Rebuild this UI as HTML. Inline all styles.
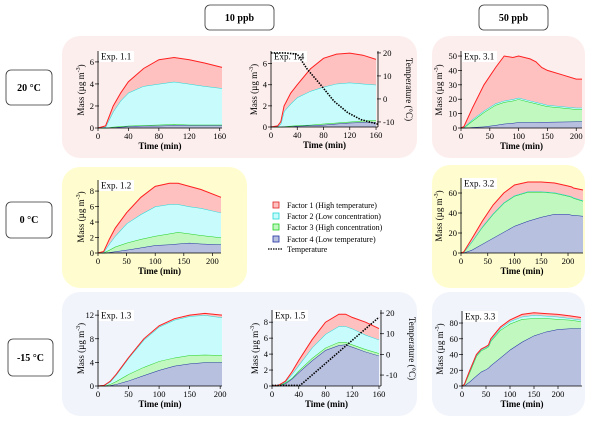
<!DOCTYPE html>
<html><head><meta charset="utf-8">
<style>
html,body{margin:0;padding:0;background:#fff;}
svg, svg text{font-family:"Liberation Serif","Times New Roman",serif;}
svg{display:block;}
</style></head>
<body>
<svg id="fig" width="600" height="423" viewBox="0 0 600 423" xmlns="http://www.w3.org/2000/svg" font-family="Liberation Serif, serif">
<g>
<rect x="62" y="36" width="355" height="122" rx="18" fill="#fdeeee"/>
<rect x="432" y="36" width="153" height="122" rx="18" fill="#fdeeee"/>
<rect x="62" y="167" width="185" height="121" rx="18" fill="#fffdcf"/>
<rect x="432" y="165" width="153" height="123" rx="18" fill="#fffdcf"/>
<rect x="62" y="292" width="355" height="124" rx="18" fill="#f1f4fb"/>
<rect x="432" y="292" width="153" height="124" rx="18" fill="#f1f4fb"/>
</g>
<g font-weight="bold" font-size="10" text-anchor="middle">
<rect x="205" y="5" width="69" height="25" rx="5" fill="#fff" stroke="#333" stroke-width="0.8"/>
<text x="239.5" y="21">10 ppb</text>
<rect x="479" y="5" width="69" height="25" rx="5" fill="#fff" stroke="#333" stroke-width="0.8"/>
<text x="513.5" y="21">50 ppb</text>
<rect x="6" y="70" width="46" height="35" rx="5" fill="#fff" stroke="#333" stroke-width="0.8"/>
<text x="29" y="91">20 °C</text>
<rect x="6" y="202" width="46" height="36" rx="5" fill="#fff" stroke="#333" stroke-width="0.8"/>
<text x="29" y="223">0 °C</text>
<rect x="8" y="339" width="45" height="37" rx="5" fill="#fff" stroke="#333" stroke-width="0.8"/>
<text x="30.5" y="361">-15 °C</text>
</g>
<g font-size="8">
<rect x="273" y="202" width="6" height="6" fill="#ffc0c0" stroke="#e02020" stroke-width="0.8"/>
<text x="287" y="208">Factor 1 (High temperature)</text>
<rect x="273" y="213" width="6" height="6" fill="#c8fcfc" stroke="#20d8d8" stroke-width="0.8"/>
<text x="287" y="219">Factor 2 (Low concentration)</text>
<rect x="273" y="224" width="6" height="6" fill="#c0f8c0" stroke="#20d020" stroke-width="0.8"/>
<text x="287" y="230">Factor 3 (High concentration)</text>
<rect x="273" y="236" width="6" height="6" fill="#b8c0e0" stroke="#2030a0" stroke-width="0.8"/>
<text x="287" y="242">Factor 4 (Low temperature)</text>
<line x1="268" y1="249" x2="282" y2="249" stroke="#000" stroke-width="1.2" stroke-dasharray="1.5,1"/>
<text x="287" y="252">Temperature</text>
</g>
<g id="charts" font-family="Liberation Serif, serif"></g>
</svg>
<script>
// ---- data (factor contributions, µg m-3) ----
const e11_t=[0,10,20,30,40,60,80,100,120,140,163];
const e11_f4=[0,0,.05,.1,.15,.2,.2,.25,.25,.25,.25];
const e11_f3=[0,0,.05,.05,.05,.05,.1,.1,.05,.05,.05];
const e11_f2=[0,.1,1.4,2.35,3.0,3.55,3.7,3.85,3.7,3.5,3.3];
const e11_f1=[0,.1,.5,.7,1.0,1.6,2.2,2.2,2.2,2.1,1.9];

const e14_t=[0,10,15,20,30,40,60,80,100,120,140,160];
const e14_f4=[0,0,0,.03,.05,.1,.15,.2,.3,.4,.45,.45];
const e14_f3=[0,0,0,.02,.05,.05,.05,.1,.1,.1,.15,.2];
const e14_f2=[0,.05,.3,1.45,2.1,2.65,3.2,3.5,3.7,3.7,3.5,3.35];
const e14_f1=[0,.05,.2,.5,1.0,1.2,2.1,2.7,2.8,2.8,2.7,2.4];
const e14_tempT=[0,20,40,55,76,96,117,137,163];
const e14_temp=[20,20,19.5,13,6,-1,-6,-9,-11];

const e12_t=[0,10,20,30,50,75,100,125,140,160,180,215];
const e12_f4=[0,0,.1,.2,.4,.7,1.0,1.1,1.2,1.3,1.2,1.1];
const e12_f3=[0,.05,.3,.6,.9,1.1,1.2,1.4,1.5,1.2,1.1,.9];
const e12_f2=[0,.05,.8,1.4,2.5,3.2,3.8,3.8,3.6,3.5,3.5,3.2];
const e12_f1=[0,.1,.6,1.0,1.4,2.2,2.6,2.7,2.7,2.6,2.4,2.0];

const e13_t=[0,10,20,30,50,75,100,125,150,175,203];
const e13_f4=[0,0,.1,.3,.9,1.8,2.7,3.4,3.8,4.0,4.0];
const e13_f3=[0,0,.2,.5,1.1,1.4,1.5,1.4,1.4,1.3,1.2];
const e13_f2=[0,.1,.4,1.1,2.7,4.6,5.8,6.4,6.6,6.7,6.4];
const e13_f1=[0,0,.1,.1,.1,.2,.2,.2,.2,.3,.4];

const e15_t=[0,10,20,30,40,60,80,100,110,120,140,160];
const e15_f4=[0,.05,.3,.9,1.7,3.2,4.5,5.1,5.2,4.9,4.3,3.8];
const e15_f3=[0,0,.1,.1,.2,.3,.3,.4,.3,.3,.3,.3];
const e15_f2=[0,.05,.1,.5,.7,1.3,1.7,2.0,2.0,2.0,1.8,1.7];
const e15_f1=[0,0,.1,.3,.6,1.0,1.5,1.5,1.5,1.4,1.6,1.4];
const e15_tempT=[0,42,160];
const e15_temp=[-15,-15,18];

const e31_t=[0,5,20,40,60,75,90,100,120,130,140,150,175,200,210];
const e31_f4=[0,0,.5,1,2,3,3.5,4,4,4,4.2,4.2,4.3,4.5,4.5];
const e31_f3=[0,.3,4.5,10,14,15,15.5,16,14,13,11.8,10.8,9.7,8.5,8.5];
const e31_f2=[0,.2,1,1,1,1,1,1,1,1,1,1,1,1,1];
const e31_f1=[0,.5,8,18,25,31,29,29,29,28,25,24,22,20,20];

const e32_t=[0,5,20,40,60,80,100,125,150,175,200,207,210,228];
const e32_f4=[0,.2,3,9,15,21,27,32,36,39,39,38,38,37];
const e32_f3=[0,.6,8,17,24,29,30,29,25,21,18,18,17,15];
const e32_f2=[0,0,.3,.5,.5,.5,.5,.5,.5,.5,.5,.5,.5,.5];
const e32_f1=[0,.2,2.7,5.5,8.5,9.5,10.5,9.5,9.5,9.5,9.5,9.5,9.5,10.5];

const e33_t=[0,5,15,30,40,50,55,60,80,100,125,150,175,200,225,248];
const e33_f4=[0,.5,5,13,18,21,23,26,36,46,56,64,69,72,73,73];
const e33_f3=[0,1.5,11,25,27,27,27,31,35,33,29,22,17,13,11,9];
const e33_f2=[0,0,1,1,1,1,1,1,2,3,3,4,3,3,2,2];
const e33_f1=[0,0,1,1,1,1,1,2,2,2,3,3,3,3,3,3];

const ticks_x160=[0,40,80,120,160];
const ticks_x200=[0,50,100,150,200];
const ticks_temp=[-10,0,10,20];

// ---- layout ----
const charts=[
 {id:'exp-1-1',label:'Exp. 1.1',box:[98,52,222,128],xmax:163,ymax:6.9,xt:ticks_x160,yt:[0,2,4,6],t:e11_t,f:[e11_f4,e11_f3,e11_f2,e11_f1]},
 {id:'exp-1-4',label:'Exp. 1.4',box:[271,52,378,127],xmax:163,ymax:7.1,xt:ticks_x160,yt:[0,2,4,6],t:e14_t,f:[e14_f4,e14_f3,e14_f2,e14_f1],tt:e14_tempT,tv:e14_temp,tr:[-12.2,20.4]},
 {id:'exp-1-2',label:'Exp. 1.2',box:[98,181,221,253],xmax:215,ymax:9.3,xt:ticks_x200,yt:[0,2,4,6,8],t:e12_t,f:[e12_f4,e12_f3,e12_f2,e12_f1]},
 {id:'exp-1-3',label:'Exp. 1.3',box:[98,311,222,386],xmax:203,ymax:12.7,xt:ticks_x200,yt:[0,4,8,12],t:e13_t,f:[e13_f4,e13_f3,e13_f2,e13_f1]},
 {id:'exp-1-5',label:'Exp. 1.5',box:[272,311,381,386],xmax:163,ymax:9.4,xt:ticks_x160,yt:[0,2,4,6,8],t:e15_t,f:[e15_f4,e15_f3,e15_f2,e15_f1],tt:e15_tempT,tv:e15_temp,tr:[-15.3,21]},
 {id:'exp-3-1',label:'Exp. 3.1',box:[461,52,582,128],xmax:210,ymax:52.8,xt:ticks_x200,yt:[0,10,20,30,40,50],t:e31_t,f:[e31_f4,e31_f3,e31_f2,e31_f1]},
 {id:'exp-3-2',label:'Exp. 3.2',box:[461,179,583,253],xmax:228,ymax:74,xt:ticks_x200,yt:[0,20,40,60],t:e32_t,f:[e32_f4,e32_f3,e32_f2,e32_f1]},
 {id:'exp-3-3',label:'Exp. 3.3',box:[462,312,582,386],xmax:250,ymax:94,xt:ticks_x200,yt:[0,20,40,60,80],t:e33_t,f:[e33_f4,e33_f3,e33_f2,e33_f1]}
];
const fills=['#b8c0e0','#c0f8c0','#c8fcfc','#ffc0c0'];
const lines=['#2030a0','#20d020','#20d8d8','#ff2020'];
const fnames=['factor-4','factor-3','factor-2','factor-1'];
const NS='http://www.w3.org/2000/svg';
const root=document.getElementById('charts');
function mk(tag,attrs,parent){const e=document.createElementNS(NS,tag);for(const k in attrs)e.setAttribute(k,attrs[k]);parent.appendChild(e);return e;}

charts.forEach(c=>{
 const [L,T,R,B]=c.box;
 const g=mk('g',{},root);
 
 
 const X=v=>L+(v/c.xmax)*(R-L);
 const Y=v=>B-(v/c.ymax)*(B-T);
 let base=c.t.map(()=>0);
 c.f.forEach((arr,i)=>{
  const top=base.map((b,j)=>b+arr[j]);
  let d='M'+c.t.map((t,j)=>X(t).toFixed(1)+','+Y(top[j]).toFixed(1)).join('L');
  for(let j=c.t.length-1;j>=0;j--)d+='L'+X(c.t[j]).toFixed(1)+','+Y(base[j]).toFixed(1);
  const a=mk('path',{d:d+'Z',fill:fills[i]},g);
  
  
  const ln=mk('polyline',{points:c.t.map((t,j)=>X(t).toFixed(1)+','+Y(top[j]).toFixed(1)).join(' '),fill:'none',stroke:lines[i],'stroke-width':1},g);
  
  
  base=top;
 });
 const ax=mk('path',{d:`M${L},${T-1}V${B}H${R}`,fill:'none',stroke:'#000','stroke-width':0.8},g);
 
 
 c.xt.forEach(v=>{
  mk('line',{x1:X(v),y1:B,x2:X(v),y2:B+3,stroke:'#000','stroke-width':0.7},g);
  const tx=mk('text',{x:X(v),y:B+11,'font-size':8.5,'text-anchor':'middle'},g);
  tx.textContent=v;
  
  
 });
 c.yt.forEach(v=>{
  mk('line',{x1:L-3,y1:Y(v),x2:L+1,y2:Y(v),stroke:'#000','stroke-width':0.7},g);
  const tx=mk('text',{x:L-4,y:Y(v)+3,'font-size':8.5,'text-anchor':'end'},g);
  tx.textContent=v;
  
  
 });
 const xl=mk('text',{x:(L+R)/2,y:B+21,'font-size':9,'font-weight':'bold','text-anchor':'middle'},g);
 xl.textContent='Time (min)';
 
 
 const yx=L-(c.ymax>20?19:14), yy=(T+B)/2;
 const yl=mk('text',{x:yx,y:yy,'font-size':9,'text-anchor':'middle',transform:`rotate(-90 ${yx} ${yy})`},g);
 yl.textContent='Mass (µg m';
 const sup=mk('tspan',{dy:-4,'font-size':6},yl); sup.textContent='-3';
 const cl=mk('tspan',{dy:4},yl); cl.textContent=')';
 
 
 const lb=mk('rect',{x:L+1,y:T-1,width:35,height:11,fill:'#fff'},g);
 
 
 const lt=mk('text',{x:L+3,y:T+7.5,'font-size':9},g);
 lt.textContent=c.label;
 
 
 if(c.tt){
  const YT=v=>B-((v-c.tr[0])/(c.tr[1]-c.tr[0]))*(B-T);
  const tl=mk('polyline',{points:c.tt.map((t,j)=>X(t).toFixed(1)+','+YT(c.tv[j]).toFixed(1)).join(' '),fill:'none',stroke:'#000','stroke-width':1.6,'stroke-dasharray':'1.5,1.2'},g);
  
  
  const ra=mk('line',{x1:R,y1:T-1,x2:R,y2:B,stroke:'#000','stroke-width':0.8},g);
  
  
  ticks_temp.forEach(v=>{
   mk('line',{x1:R-1,y1:YT(v),x2:R+3,y2:YT(v),stroke:'#000','stroke-width':0.7},g);
   const tx=mk('text',{x:R+5,y:YT(v)+3,'font-size':8.5},g);
   tx.textContent=v;
   
   
  });
  const rx=R+28, ry=(T+B)/2;
  const rt=mk('text',{x:rx,y:ry,'font-size':9,'text-anchor':'middle',transform:`rotate(90 ${rx} ${ry})`},g);
  rt.textContent='Temperature (°C)';
  
  
 }
});
</script>
</body></html>
